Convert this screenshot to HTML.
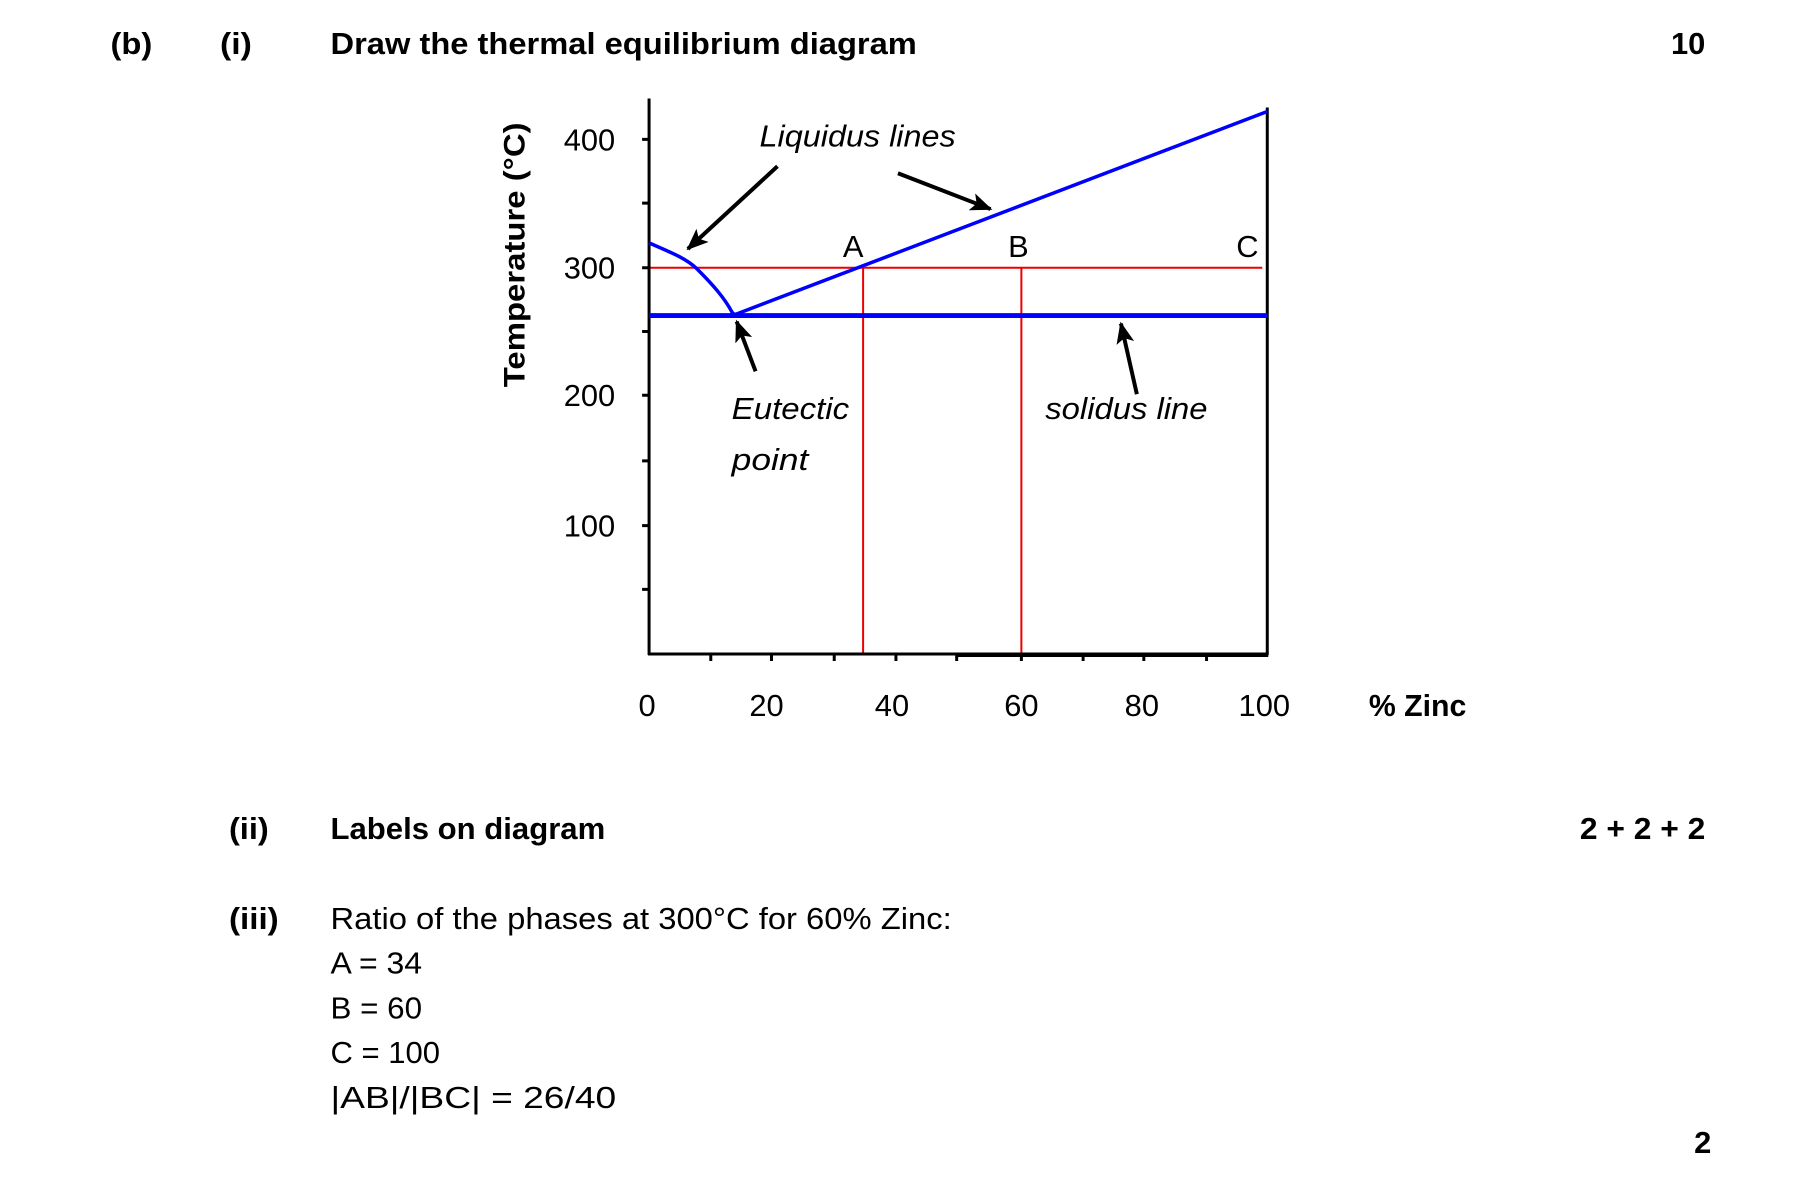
<!DOCTYPE html>
<html><head><meta charset="utf-8"><style>body{margin:0;background:#fff}svg{display:block}text{font-family:"Liberation Sans",sans-serif;fill:#000}</style></head><body>
<svg width="1818" height="1186" viewBox="0 0 1818 1186" xmlns="http://www.w3.org/2000/svg">
<defs>
<marker id="a2" markerWidth="22" markerHeight="18" refX="20" refY="9" orient="auto" markerUnits="userSpaceOnUse"><path d="M0,0 L22,9 L0,18 L5,9 z" fill="#000"/></marker></defs>
<g transform="scale(0.9955)">
<g font-size="31" font-weight="bold">
<text x="111" y="54" textLength="42" lengthAdjust="spacingAndGlyphs">(b)</text>
<text x="221" y="54" textLength="32" lengthAdjust="spacingAndGlyphs">(i)</text>
<text x="332" y="54" textLength="589" lengthAdjust="spacingAndGlyphs">Draw the thermal equilibrium diagram</text>
<text x="1713" y="54" text-anchor="end">10</text>
<text x="230" y="843" textLength="40" lengthAdjust="spacingAndGlyphs">(ii)</text>
<text x="332" y="843" textLength="276" lengthAdjust="spacingAndGlyphs">Labels on diagram</text>
<text x="1713" y="843" textLength="126" lengthAdjust="spacingAndGlyphs" text-anchor="end">2 + 2 + 2</text>
<text x="230" y="933" textLength="50" lengthAdjust="spacingAndGlyphs">(iii)</text>
<text x="1719" y="1158" text-anchor="end">2</text>
<text x="1375" y="719" textLength="98" lengthAdjust="spacingAndGlyphs">% Zinc</text>
<text transform="translate(527,256) rotate(-90)" text-anchor="middle" textLength="266" lengthAdjust="spacingAndGlyphs" font-size="30">Temperature (°C)</text>
</g>
<g font-size="31">
<text x="332" y="933" textLength="624" lengthAdjust="spacingAndGlyphs">Ratio of the phases at 300°C for 60% Zinc:</text>
<text x="332" y="978" textLength="92" lengthAdjust="spacingAndGlyphs">A = 34</text>
<text x="332" y="1023" textLength="92" lengthAdjust="spacingAndGlyphs">B = 60</text>
<text x="332" y="1068" textLength="110" lengthAdjust="spacingAndGlyphs">C = 100</text>
<text x="332" y="1113" textLength="287" lengthAdjust="spacingAndGlyphs">|AB|/|BC| = 26/40</text>
<g text-anchor="end"><text x="618" y="151">400</text><text x="618" y="280">300</text><text x="618" y="408">200</text><text x="618" y="539">100</text></g>
<g text-anchor="middle"><text x="650" y="719">0</text><text x="770" y="719">20</text><text x="896" y="719">40</text><text x="1026" y="719">60</text><text x="1147" y="719">80</text><text x="1270" y="719">100</text></g>
<text x="857" y="258" text-anchor="middle">A</text><text x="1023" y="258" text-anchor="middle">B</text><text x="1253" y="258" text-anchor="middle">C</text>
<g font-style="italic"><text x="763" y="147" textLength="197" lengthAdjust="spacingAndGlyphs">Liquidus lines</text>
<text x="735" y="421" textLength="118" lengthAdjust="spacingAndGlyphs">Eutectic</text>
<text x="735" y="472" textLength="77" lengthAdjust="spacingAndGlyphs">point</text>
<text x="1050" y="421" textLength="163" lengthAdjust="spacingAndGlyphs">solidus line</text></g>
</g>
<g stroke="#e00" stroke-width="2" fill="none"><line x1="652" y1="269" x2="1268" y2="269"/><line x1="867" y1="269" x2="867" y2="656"/><line x1="1026" y1="269" x2="1026" y2="656"/></g>
<g stroke="#000" stroke-width="3" fill="none"><line x1="652" y1="99" x2="652" y2="658"/><line x1="1273" y1="108" x2="1273" y2="658"/><line x1="651" y1="657" x2="1274" y2="657"/><line x1="961" y1="658" x2="1274" y2="658" stroke-width="4"/>
<path d="M645 140h6M645 204h6M645 269h6M645 333h6M645 397h6M645 463h6M645 528h6M645 592h6M714 657v7M775 657v7M838 657v7M900 657v7M961 657v7M1026 657v7M1088 657v7M1149 657v7M1212 657v7"/></g>
<g stroke="#00f" fill="none"><line x1="652" y1="317" x2="1273" y2="317" stroke-width="5"/>
<path d="M652 244 C675 254 690 260 700 270 C718 288 728 300 735 313 Q737 317 741 315 L1273 112" stroke-width="3.5"/></g>
<g stroke="#000" stroke-width="4" fill="none" marker-end="url(#a2)"><line x1="781" y1="167" x2="691" y2="250"/><line x1="902" y1="174" x2="995" y2="210"/><line x1="759" y1="373" x2="740" y2="323"/><line x1="1142" y1="396" x2="1126" y2="325"/></g>
</g>
</svg></body></html>
